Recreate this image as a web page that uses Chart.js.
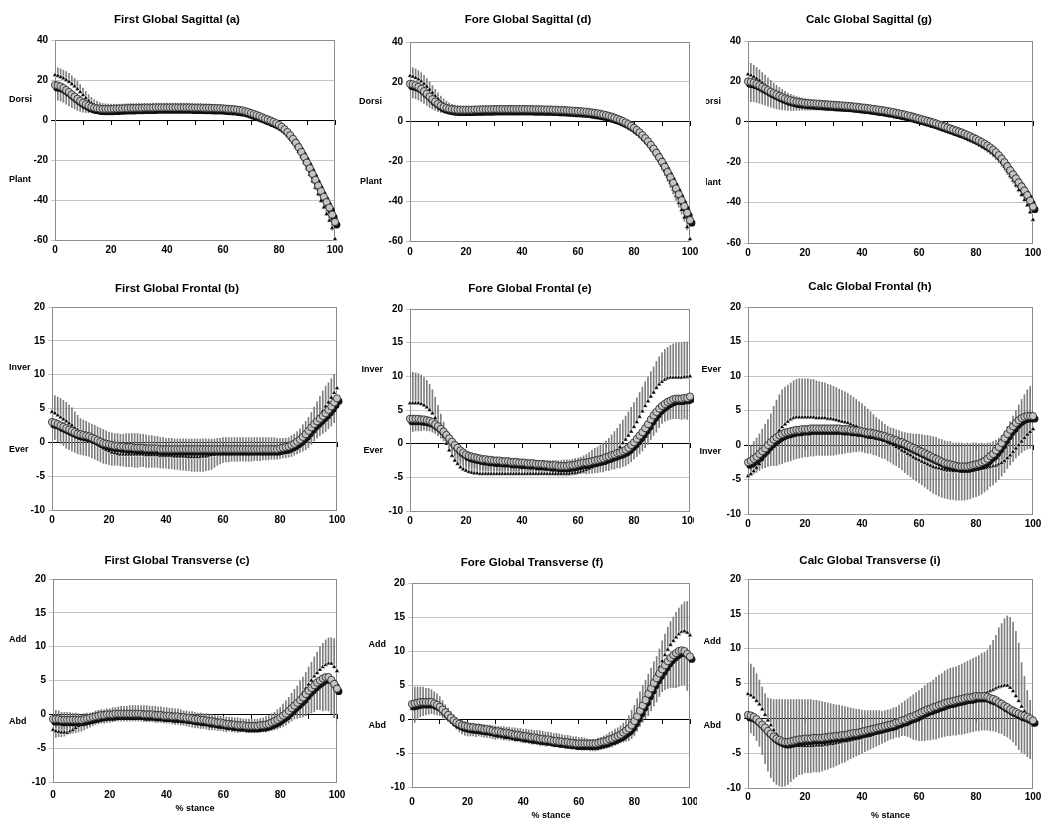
<!DOCTYPE html>
<html>
<head>
<meta charset="utf-8">
<title>Global segment angles during stance</title>
<script src="https://cdn.jsdelivr.net/npm/chart.js@4.4.1/dist/chart.umd.min.js"></script>
<style>
  html, body { margin: 0; padding: 0; background: #fff; }
  body { width: 1050px; height: 830px; position: relative; overflow: hidden; }
  .panel { position: absolute; overflow: hidden; }
  .panel canvas { position: absolute; top: 0; }
</style>
</head>
<body>
<script>
// % stance, one sample per percent
const stance = [0,1,2,3,4,5,6,7,8,9,10,11,12,13,14,15,16,17,18,19,20,21,22,23,24,25,26,27,28,29,30,
  31,32,33,34,35,36,37,38,39,40,41,42,43,44,45,46,47,48,49,50,51,52,53,54,55,56,57,58,59,60,
  61,62,63,64,65,66,67,68,69,70,71,72,73,74,75,76,77,78,79,80,81,82,83,84,85,86,87,88,89,90,
  91,92,93,94,95,96,97,98,99,100];

const xTicks = [0, 20, 40, 60, 80, 100];
const sagittalTicks = [-60, -40, -20, 0, 20, 40];
const planeTicks = [-10, -5, 0, 5, 10, 15, 20];

// (a) First Global Sagittal
const aCirc = [17.5,17.3,16.8,16.0,15.0,14.0,12.8,11.7,10.6,9.6,8.7,
  7.9,7.2,6.6,6.2,5.9,5.7,5.6,5.6,5.6,5.6,
  5.7,5.7,5.8,5.8,5.9,5.9,6.0,6.0,6.1,6.1,
  6.1,6.2,6.2,6.2,6.2,6.3,6.3,6.3,6.3,6.3,
  6.3,6.3,6.3,6.3,6.3,6.3,6.3,6.3,6.2,6.2,
  6.2,6.2,6.1,6.1,6.1,6.0,6.0,5.9,5.9,5.8,
  5.7,5.6,5.5,5.4,5.2,5.0,4.8,4.4,4.0,3.5,
  3.0,2.5,2.0,1.4,0.8,0.3,-0.3,-0.9,-1.6,-2.4,
  -3.4,-4.6,-6.0,-7.6,-9.4,-11.4,-13.6,-16.0,-18.6,-21.3,
  -24.1,-27.0,-29.9,-32.8,-35.6,-38.4,-41.1,-43.8,-47.3,-51.0];
const aTri = [22.5,22.1,21.5,20.8,20.0,19.1,18.0,16.8,15.5,14.0,12.5,
  11.0,9.6,8.4,7.5,6.8,6.2,5.8,5.6,5.5,5.4,
  5.4,5.4,5.4,5.5,5.5,5.5,5.6,5.6,5.6,5.7,
  5.7,5.7,5.7,5.8,5.8,5.8,5.8,5.8,5.8,5.8,
  5.8,5.8,5.8,5.8,5.8,5.8,5.8,5.8,5.8,5.7,
  5.7,5.7,5.6,5.6,5.5,5.5,5.4,5.3,5.2,5.1,
  5.0,4.9,4.7,4.5,4.3,4.1,3.8,3.4,3.0,2.5,
  2.1,1.7,1.3,0.9,0.5,0.0,-0.7,-1.4,-2.2,-3.2,
  -4.4,-5.8,-7.4,-9.2,-11.2,-13.4,-15.8,-18.4,-21.2,-24.2,
  -27.3,-30.5,-33.8,-37.1,-40.4,-43.7,-47.0,-50.3,-54.0,-59.5];
const aTriSD = [4.0,4.0,4.1,4.1,4.2,4.2,4.1,4.0,3.9,3.7,3.5,
  3.3,3.1,2.9,2.7,2.6,2.5,2.5,2.5,2.5,2.5,
  2.5,2.5,2.5,2.5,2.6,2.6,2.6,2.6,2.6,2.6,
  2.6,2.6,2.6,2.6,2.6,2.6,2.6,2.6,2.6,2.6,
  2.6,2.6,2.6,2.6,2.6,2.6,2.6,2.6,2.5,2.5,
  2.5,2.5,2.5,2.5,2.5,2.4,2.4,2.4,2.4,2.4,
  2.4,2.3,2.3,2.2,2.1,2.0,2.0,1.9,1.9,1.8,
  1.8,1.8,1.7,1.7,1.7,1.7,1.7,1.7,1.7,1.7,
  1.8,1.8,1.8,1.8,1.9,1.9,1.9,1.9,2.0,2.0,
  2.0,2.0,2.0,2.0,2.0,2.0,2.0,2.0,2.0,2.0];
const aCircSD = [7.5,7.4,7.3,7.2,7.1,6.9,6.6,6.2,5.8,5.3,4.8,
  4.2,3.6,3.0,2.5,2.1,1.8,1.6,1.5,1.4,1.4,
  1.3,1.3,1.3,1.3,1.3,1.3,1.3,1.3,1.3,1.3,
  1.3,1.3,1.3,1.3,1.3,1.3,1.3,1.3,1.3,1.3,
  1.3,1.3,1.3,1.3,1.3,1.3,1.3,1.3,1.3,1.3,
  1.3,1.3,1.3,1.3,1.3,1.4,1.4,1.4,1.4,1.4,
  1.4,1.4,1.5,1.5,1.5,1.6,1.6,1.7,1.7,1.8,
  1.8,1.9,1.9,2.0,2.0,2.0,2.0,2.0,2.0,2.0,
  2.2,2.4,2.6,2.8,3.0,3.2,3.4,3.6,3.8,4.0,
  4.3,4.6,4.9,5.2,5.6,6.0,6.5,7.0,7.8,8.5];

// (b) First Global Frontal
const bCirc = [3.0,2.9,2.7,2.5,2.3,2.1,1.9,1.7,1.5,1.3,1.2,
  1.1,1.0,0.9,0.7,0.5,0.3,0.1,-0.1,-0.2,-0.3,
  -0.4,-0.5,-0.5,-0.6,-0.6,-0.7,-0.7,-0.7,-0.8,-0.8,
  -0.8,-0.8,-0.9,-0.9,-0.9,-0.9,-0.9,-1.0,-1.0,-1.0,
  -1.0,-1.0,-1.0,-1.0,-1.0,-1.0,-1.0,-1.0,-1.0,-1.0,
  -1.0,-1.0,-1.0,-1.0,-1.0,-1.0,-1.0,-1.0,-1.0,-1.0,
  -1.0,-1.0,-1.0,-1.0,-1.0,-1.0,-1.0,-1.0,-1.0,-1.0,
  -1.0,-1.0,-1.0,-1.0,-1.0,-1.0,-1.0,-1.0,-1.0,-0.9,
  -0.8,-0.7,-0.6,-0.4,-0.2,0.1,0.4,0.8,1.2,1.7,
  2.2,2.7,3.1,3.5,3.9,4.3,4.8,5.3,5.9,6.5];
const bTri = [4.5,4.3,4.0,3.7,3.4,3.1,2.8,2.5,2.1,1.8,1.5,
  1.2,0.9,0.6,0.3,0.0,-0.3,-0.6,-0.9,-1.1,-1.3,
  -1.5,-1.6,-1.7,-1.8,-1.8,-1.8,-1.8,-1.8,-1.8,-1.8,
  -1.8,-1.8,-1.9,-1.9,-1.9,-1.9,-1.9,-2.0,-2.0,-2.0,
  -2.0,-2.0,-2.1,-2.1,-2.1,-2.1,-2.1,-2.2,-2.2,-2.2,
  -2.2,-2.2,-2.1,-2.1,-2.0,-1.9,-1.8,-1.7,-1.6,-1.5,
  -1.5,-1.5,-1.5,-1.5,-1.5,-1.5,-1.5,-1.5,-1.5,-1.5,
  -1.5,-1.5,-1.5,-1.5,-1.5,-1.5,-1.5,-1.5,-1.6,-1.6,
  -1.6,-1.6,-1.5,-1.3,-1.1,-0.8,-0.4,0.1,0.6,1.2,
  1.8,2.5,3.2,3.9,4.6,5.3,5.9,6.6,7.3,8.0];
const bTriSD = [2.5,2.6,2.7,2.8,2.8,2.8,2.7,2.6,2.4,2.2,2.0,
  2.1,2.2,2.3,2.4,2.5,2.6,2.7,2.8,2.8,2.8,
  2.9,2.9,3.0,3.0,3.0,3.1,3.1,3.1,3.1,3.1,
  3.0,3.0,3.0,2.9,2.9,2.8,2.8,2.7,2.7,2.6,
  2.6,2.6,2.6,2.6,2.6,2.6,2.6,2.7,2.7,2.7,
  2.7,2.7,2.6,2.6,2.5,2.4,2.3,2.3,2.2,2.2,
  2.2,2.2,2.2,2.2,2.2,2.2,2.2,2.2,2.2,2.2,
  2.2,2.2,2.2,2.2,2.2,2.2,2.2,2.2,2.2,2.2,
  2.2,2.2,2.2,2.3,2.3,2.4,2.4,2.5,2.5,2.5,
  2.6,2.7,2.8,2.9,3.0,3.0,2.9,2.8,2.7,2.5];
const bCircSD = [2.4,2.5,2.6,2.7,2.8,3.0,3.0,3.0,3.0,3.0,3.0,
  3.0,3.0,3.0,3.0,3.0,3.0,3.0,3.0,3.0,3.0,
  3.0,2.9,2.9,2.9,2.9,2.9,2.9,2.9,2.9,2.9,
  2.8,2.8,2.8,2.8,2.8,2.8,2.8,2.8,2.8,2.8,
  2.9,2.9,3.0,3.0,3.1,3.1,3.2,3.2,3.3,3.3,
  3.3,3.3,3.3,3.2,3.1,3.0,2.7,2.4,2.2,2.0,
  1.9,1.9,1.8,1.8,1.8,1.8,1.8,1.8,1.8,1.8,
  1.7,1.7,1.7,1.6,1.6,1.6,1.5,1.5,1.5,1.5,
  1.5,1.6,1.6,1.7,1.7,1.8,1.9,2.1,2.3,2.5,
  2.5,2.5,2.5,2.5,2.6,2.7,2.8,2.9,3.0,3.2];

// (c) First Global Transverse
const cCirc = [-0.7,-0.7,-0.7,-0.8,-0.8,-0.8,-0.8,-0.8,-0.8,-0.8,-0.8,
  -0.7,-0.6,-0.5,-0.4,-0.3,-0.2,-0.1,-0.1,0.0,0.0,
  0.0,0.1,0.1,0.1,0.1,0.1,0.1,0.1,0.1,0.1,
  0.1,0.0,0.0,0.0,0.0,-0.1,-0.1,-0.1,-0.2,-0.2,
  -0.2,-0.3,-0.3,-0.3,-0.4,-0.4,-0.5,-0.5,-0.6,-0.7,
  -0.7,-0.8,-0.8,-0.9,-1.0,-1.0,-1.1,-1.2,-1.2,-1.3,
  -1.4,-1.4,-1.5,-1.5,-1.6,-1.6,-1.6,-1.7,-1.7,-1.7,
  -1.7,-1.7,-1.6,-1.6,-1.5,-1.4,-1.2,-1.0,-0.8,-0.5,
  -0.2,0.1,0.5,0.9,1.3,1.7,2.1,2.5,3.0,3.5,
  3.9,4.3,4.7,5.0,5.3,5.5,5.5,5.1,4.5,3.8];
const cTri = [-2.3,-2.5,-2.6,-2.7,-2.7,-2.7,-2.5,-2.3,-2.0,-1.7,-1.4,
  -1.2,-1.0,-0.9,-0.8,-0.6,-0.5,-0.4,-0.4,-0.3,-0.3,
  -0.2,-0.2,-0.1,-0.1,-0.1,-0.1,-0.1,-0.1,-0.2,-0.2,
  -0.2,-0.3,-0.3,-0.4,-0.4,-0.4,-0.5,-0.5,-0.6,-0.6,
  -0.7,-0.7,-0.8,-0.8,-0.9,-1.0,-1.0,-1.1,-1.1,-1.2,
  -1.3,-1.3,-1.4,-1.4,-1.5,-1.5,-1.6,-1.6,-1.7,-1.7,
  -1.8,-1.8,-1.8,-1.9,-1.9,-1.9,-2.0,-2.0,-2.0,-2.0,
  -2.0,-2.0,-2.0,-1.9,-1.8,-1.7,-1.5,-1.3,-1.0,-0.7,
  -0.3,0.1,0.5,1.0,1.5,2.0,2.6,3.2,3.8,4.4,
  5.0,5.6,6.1,6.6,7.0,7.3,7.5,7.5,7.0,6.4];
const cTriSD = [3.1,3.1,3.1,3.0,3.0,3.0,2.8,2.5,2.2,1.8,1.4,
  1.3,1.2,1.1,1.1,1.1,1.1,1.1,1.1,1.1,1.1,
  1.2,1.2,1.2,1.3,1.3,1.3,1.4,1.4,1.5,1.5,
  1.5,1.6,1.6,1.6,1.6,1.6,1.6,1.6,1.6,1.6,
  1.6,1.6,1.6,1.6,1.6,1.5,1.5,1.5,1.5,1.5,
  1.5,1.5,1.5,1.5,1.5,1.5,1.4,1.4,1.4,1.4,
  1.4,1.4,1.4,1.4,1.4,1.3,1.3,1.3,1.3,1.3,
  1.3,1.3,1.4,1.4,1.5,1.5,1.6,1.6,1.7,1.7,
  1.8,1.9,2.0,2.1,2.2,2.2,2.3,2.3,2.4,2.6,
  2.7,2.9,3.1,3.4,3.5,3.7,3.8,3.8,4.2,4.6];
const cCircSD = [2.8,2.7,2.6,2.5,2.4,2.2,2.1,2.0,1.9,1.8,1.7,
  1.6,1.5,1.4,1.3,1.2,1.2,1.2,1.2,1.2,1.2,
  1.1,1.1,1.1,1.1,1.1,1.1,1.1,1.1,1.1,1.1,
  1.1,1.1,1.1,1.1,1.1,1.1,1.1,1.1,1.1,1.1,
  1.1,1.1,1.2,1.2,1.2,1.2,1.2,1.3,1.3,1.3,
  1.3,1.3,1.3,1.3,1.3,1.3,1.2,1.2,1.2,1.2,
  1.2,1.1,1.1,1.1,1.1,1.0,1.0,1.0,1.0,1.0,
  1.0,1.0,1.0,1.0,1.1,1.1,1.2,1.3,1.4,1.5,
  1.6,1.7,1.8,1.9,2.0,2.3,2.6,2.9,3.2,3.5,
  3.7,3.9,4.0,4.3,4.8,4.9,5.0,5.0,5.0,5.1];

// (d) Fore Global Sagittal
const dCirc = [19.0,18.8,18.3,17.5,16.5,15.3,14.0,12.6,11.3,10.1,9.0,
  8.1,7.4,6.9,6.5,6.3,6.1,6.0,6.0,6.0,6.0,
  6.0,6.0,6.1,6.1,6.1,6.2,6.2,6.2,6.2,6.3,
  6.3,6.3,6.3,6.3,6.3,6.3,6.3,6.3,6.3,6.3,
  6.3,6.3,6.3,6.2,6.2,6.2,6.2,6.1,6.1,6.1,
  6.0,6.0,5.9,5.9,5.8,5.7,5.6,5.5,5.4,5.3,
  5.2,5.1,5.0,4.8,4.6,4.4,4.2,3.9,3.6,3.3,
  2.9,2.5,2.0,1.5,0.9,0.3,-0.4,-1.2,-2.1,-3.1,
  -4.2,-5.4,-6.8,-8.3,-9.9,-11.7,-13.6,-15.7,-17.9,-20.2,
  -22.7,-25.3,-28.0,-30.8,-33.6,-36.5,-39.5,-42.5,-45.8,-49.5];
const dTri = [23.0,22.6,22.0,21.2,20.2,19.0,17.6,16.1,14.5,12.9,11.4,
  10.0,8.8,7.8,7.0,6.4,6.0,5.7,5.5,5.4,5.4,
  5.4,5.4,5.4,5.4,5.5,5.5,5.5,5.5,5.5,5.6,
  5.6,5.6,5.6,5.6,5.6,5.6,5.6,5.6,5.6,5.6,
  5.6,5.6,5.6,5.5,5.5,5.5,5.5,5.4,5.4,5.4,
  5.3,5.3,5.3,5.2,5.2,5.2,5.1,5.1,5.0,5.0,
  4.9,4.8,4.6,4.4,4.2,4.0,3.7,3.4,3.0,2.6,
  2.2,1.7,1.2,0.6,0.0,-0.6,-1.3,-2.1,-3.0,-4.0,
  -5.1,-6.4,-7.8,-9.4,-11.1,-13.0,-15.0,-17.2,-19.6,-22.1,
  -24.8,-27.7,-30.8,-34.0,-37.3,-40.8,-44.4,-48.2,-53.0,-59.0];
const dTriSD = [4.5,4.5,4.5,4.4,4.3,4.2,4.0,3.8,3.6,3.3,3.0,
  2.8,2.6,2.5,2.4,2.3,2.3,2.3,2.3,2.3,2.3,
  2.3,2.3,2.3,2.3,2.3,2.3,2.3,2.3,2.3,2.3,
  2.3,2.3,2.3,2.3,2.3,2.3,2.3,2.3,2.3,2.3,
  2.3,2.3,2.3,2.3,2.2,2.2,2.2,2.2,2.2,2.2,
  2.2,2.2,2.2,2.1,2.1,2.1,2.1,2.0,2.0,2.0,
  2.0,1.9,1.9,1.9,1.8,1.8,1.8,1.8,1.7,1.7,
  1.7,1.7,1.7,1.7,1.7,1.7,1.7,1.7,1.7,1.7,
  1.8,1.8,1.8,1.8,1.9,1.9,1.9,1.9,2.0,2.0,
  2.0,2.0,2.0,2.0,2.0,2.0,2.0,2.0,2.0,2.0];
const dCircSD = [7.0,6.9,6.8,6.7,6.5,6.2,5.9,5.5,5.0,4.5,4.0,
  3.5,3.0,2.6,2.2,1.9,1.7,1.5,1.4,1.3,1.3,
  1.3,1.3,1.3,1.3,1.3,1.3,1.3,1.3,1.3,1.3,
  1.3,1.3,1.3,1.3,1.3,1.3,1.3,1.3,1.3,1.3,
  1.3,1.3,1.3,1.3,1.3,1.3,1.3,1.3,1.3,1.3,
  1.3,1.3,1.3,1.3,1.3,1.4,1.4,1.4,1.4,1.4,
  1.4,1.4,1.5,1.5,1.5,1.6,1.6,1.7,1.7,1.8,
  1.8,1.9,1.9,2.0,2.0,2.0,2.0,2.0,2.0,2.0,
  2.2,2.4,2.6,2.8,3.0,3.2,3.4,3.6,3.9,4.2,
  4.5,4.8,5.2,5.6,6.0,6.5,7.0,7.6,8.5,9.5];

// (e) Fore Global Frontal
const eCirc = [3.7,3.7,3.7,3.7,3.6,3.6,3.5,3.4,3.2,2.9,2.6,
  2.2,1.8,1.3,0.8,0.3,-0.2,-0.6,-1.0,-1.3,-1.6,
  -1.8,-1.9,-2.0,-2.1,-2.2,-2.3,-2.3,-2.4,-2.4,-2.5,
  -2.5,-2.5,-2.6,-2.6,-2.6,-2.7,-2.7,-2.7,-2.8,-2.8,
  -2.8,-2.9,-2.9,-2.9,-3.0,-3.0,-3.0,-3.1,-3.1,-3.2,
  -3.2,-3.2,-3.3,-3.3,-3.3,-3.3,-3.2,-3.2,-3.1,-3.0,
  -2.9,-2.8,-2.8,-2.7,-2.6,-2.5,-2.4,-2.3,-2.2,-2.0,
  -1.9,-1.7,-1.6,-1.4,-1.3,-1.1,-0.9,-0.6,-0.2,0.2,
  0.7,1.2,1.7,2.3,2.9,3.6,4.2,4.7,5.2,5.6,
  5.9,6.2,6.4,6.6,6.7,6.7,6.7,6.8,6.8,7.0];
const eTri = [6.0,6.0,6.0,6.0,5.9,5.7,5.4,5.0,4.5,3.8,3.0,
  2.0,1.0,0.0,-1.0,-1.8,-2.5,-3.0,-3.5,-3.8,-4.0,
  -4.2,-4.3,-4.4,-4.4,-4.5,-4.5,-4.5,-4.5,-4.5,-4.5,
  -4.5,-4.5,-4.5,-4.5,-4.5,-4.5,-4.5,-4.5,-4.5,-4.5,
  -4.5,-4.5,-4.5,-4.5,-4.5,-4.5,-4.5,-4.5,-4.5,-4.5,
  -4.5,-4.5,-4.5,-4.5,-4.5,-4.5,-4.5,-4.4,-4.4,-4.3,
  -4.2,-4.1,-3.9,-3.7,-3.5,-3.3,-3.1,-2.9,-2.7,-2.5,
  -2.2,-1.8,-1.4,-1.0,-0.5,0.1,0.6,1.2,1.8,2.5,
  3.2,4.0,4.8,5.6,6.3,7.0,7.6,8.3,8.8,9.2,
  9.5,9.7,9.8,9.8,9.8,9.8,9.8,9.9,9.9,10.0];
const eTriSD = [4.7,4.6,4.5,4.4,4.3,4.1,4.0,3.8,3.5,3.1,2.7,
  2.4,2.2,2.0,2.0,2.0,2.0,2.0,2.0,2.0,2.0,
  2.0,2.0,2.0,2.0,2.0,2.0,2.0,2.0,2.0,2.0,
  2.0,2.0,2.0,2.0,2.0,2.0,2.0,2.0,2.0,2.0,
  2.0,2.0,2.0,2.0,2.0,2.0,2.0,2.0,2.0,2.0,
  2.0,2.0,2.0,2.0,2.1,2.1,2.1,2.1,2.2,2.2,
  2.2,2.3,2.3,2.4,2.5,2.6,2.6,2.7,2.8,2.9,
  3.0,3.1,3.2,3.3,3.4,3.4,3.5,3.5,3.6,3.6,
  3.6,3.6,3.6,3.6,3.6,3.7,3.8,3.9,4.1,4.3,
  4.5,4.6,4.8,5.0,5.1,5.2,5.2,5.2,5.2,5.2];
const eCircSD = [1.9,1.9,1.8,1.8,1.7,1.6,1.6,1.5,1.5,1.4,1.4,
  1.4,1.4,1.4,1.5,1.5,1.5,1.5,1.5,1.5,1.5,
  1.5,1.5,1.5,1.5,1.5,1.5,1.5,1.5,1.5,1.5,
  1.5,1.5,1.5,1.5,1.5,1.5,1.5,1.5,1.5,1.5,
  1.5,1.5,1.5,1.5,1.5,1.5,1.5,1.5,1.5,1.5,
  1.5,1.5,1.5,1.5,1.5,1.5,1.5,1.5,1.5,1.5,
  1.6,1.6,1.7,1.7,1.8,1.8,1.9,1.9,2.0,2.0,
  2.1,2.1,2.2,2.2,2.3,2.3,2.4,2.4,2.5,2.5,
  2.6,2.7,2.8,2.9,3.0,3.0,3.0,3.0,2.8,2.6,
  2.6,2.7,2.8,2.9,3.0,3.0,3.1,3.1,3.2,3.3];

// (f) Fore Global Transverse
const fCirc = [2.2,2.3,2.4,2.5,2.5,2.5,2.5,2.5,2.3,2.1,1.8,
  1.4,1.0,0.6,0.2,-0.2,-0.5,-0.7,-0.9,-1.0,-1.1,
  -1.2,-1.2,-1.3,-1.3,-1.4,-1.5,-1.5,-1.6,-1.7,-1.8,
  -1.8,-1.9,-2.0,-2.0,-2.1,-2.2,-2.3,-2.3,-2.4,-2.5,
  -2.5,-2.6,-2.7,-2.7,-2.8,-2.9,-2.9,-3.0,-3.0,-3.1,
  -3.2,-3.2,-3.3,-3.3,-3.4,-3.4,-3.5,-3.5,-3.6,-3.6,
  -3.6,-3.6,-3.6,-3.6,-3.6,-3.6,-3.5,-3.4,-3.3,-3.2,
  -3.0,-2.9,-2.7,-2.5,-2.3,-2.0,-1.7,-1.4,-0.9,-0.3,
  0.4,1.2,2.0,2.8,3.7,4.5,5.3,6.0,6.7,7.3,
  7.9,8.5,9.0,9.4,9.7,10.0,10.1,10.0,9.6,9.2];
const fTri = [1.5,1.7,1.8,1.9,2.0,2.0,2.1,2.1,2.0,1.8,1.6,
  1.2,0.8,0.4,0.0,-0.4,-0.8,-1.1,-1.4,-1.6,-1.8,
  -1.9,-1.9,-2.0,-2.0,-2.1,-2.1,-2.2,-2.2,-2.3,-2.3,
  -2.4,-2.4,-2.4,-2.5,-2.5,-2.6,-2.6,-2.7,-2.7,-2.8,
  -2.8,-2.9,-2.9,-3.0,-3.1,-3.1,-3.2,-3.3,-3.3,-3.4,
  -3.5,-3.5,-3.6,-3.7,-3.8,-3.8,-3.9,-4.0,-4.0,-4.1,
  -4.1,-4.2,-4.2,-4.3,-4.3,-4.3,-4.2,-4.1,-4.0,-3.8,
  -3.6,-3.4,-3.2,-3.0,-2.7,-2.4,-2.1,-1.7,-1.2,-0.7,
  0.1,1.0,1.9,2.8,3.8,4.8,5.8,6.7,7.6,8.5,
  9.4,10.2,10.9,11.5,12.0,12.5,12.8,12.9,12.7,12.3];
const fTriSD = [3.1,3.0,2.9,2.8,2.7,2.5,2.4,2.2,2.0,1.9,1.7,
  1.5,1.3,1.2,1.1,1.0,1.0,1.1,1.2,1.2,1.3,
  1.3,1.3,1.3,1.3,1.3,1.3,1.3,1.3,1.3,1.3,
  1.3,1.3,1.3,1.3,1.3,1.3,1.3,1.3,1.3,1.3,
  1.3,1.3,1.3,1.3,1.4,1.4,1.4,1.4,1.4,1.4,
  1.4,1.4,1.4,1.4,1.4,1.4,1.4,1.4,1.4,1.4,
  1.4,1.4,1.3,1.3,1.3,1.3,1.4,1.4,1.5,1.5,
  1.6,1.6,1.7,1.7,1.7,1.8,2.0,2.2,2.5,2.7,
  2.9,3.0,3.0,2.9,2.8,2.7,2.6,2.5,2.7,3.0,
  3.1,3.3,3.4,3.5,3.7,3.8,4.0,4.3,4.6,4.9];
const fCircSD = [3.0,2.8,2.5,2.2,2.0,1.9,1.8,1.7,1.6,1.5,1.3,
  1.2,1.1,1.0,0.9,0.8,1.0,1.2,1.3,1.4,1.4,
  1.3,1.3,1.3,1.2,1.2,1.2,1.2,1.2,1.2,1.2,
  1.1,1.1,1.1,1.1,1.1,1.0,1.0,1.0,1.0,1.0,
  1.0,1.0,1.0,1.0,1.0,1.0,1.0,1.0,0.9,0.9,
  0.9,0.9,0.9,0.9,0.9,0.9,0.9,0.9,0.9,0.9,
  1.0,1.0,1.0,1.1,1.1,1.1,1.1,1.1,1.1,1.1,
  1.2,1.2,1.2,1.2,1.2,1.4,1.6,1.8,2.0,2.2,
  2.2,2.3,2.5,2.8,3.2,3.3,3.4,3.5,3.4,3.3,
  3.6,4.0,4.4,4.8,5.1,5.2,5.1,5.0,5.4,5.9];

// (g) Calc Global Sagittal
const gCirc = [20.0,19.8,19.4,18.8,18.1,17.3,16.5,15.7,14.9,14.2,13.5,
  12.8,12.2,11.6,11.1,10.7,10.3,10.0,9.8,9.6,9.4,
  9.3,9.2,9.1,9.0,8.9,8.8,8.7,8.6,8.5,8.4,
  8.3,8.2,8.1,8.0,7.9,7.8,7.6,7.5,7.3,7.1,
  7.0,6.8,6.6,6.4,6.2,6.0,5.8,5.6,5.3,5.1,
  4.8,4.5,4.2,3.9,3.6,3.2,2.9,2.5,2.1,1.7,
  1.3,0.9,0.5,0.1,-0.3,-0.8,-1.3,-1.8,-2.3,-2.8,
  -3.3,-3.8,-4.3,-4.8,-5.3,-5.9,-6.5,-7.1,-7.8,-8.5,
  -9.2,-10.0,-10.8,-11.7,-12.7,-13.8,-15.0,-16.5,-18.2,-20.0,
  -22.0,-24.0,-26.0,-28.0,-30.0,-32.0,-34.0,-36.3,-39.0,-42.0];
const gTri = [23.5,23.0,22.3,21.4,20.4,19.3,18.2,17.1,16.0,15.0,14.1,
  13.2,12.4,11.7,11.0,10.5,10.0,9.6,9.3,9.0,8.8,
  8.6,8.5,8.4,8.3,8.2,8.1,8.0,7.9,7.8,7.7,
  7.6,7.5,7.4,7.3,7.2,7.1,7.0,6.8,6.7,6.5,
  6.4,6.2,6.0,5.8,5.6,5.4,5.2,5.0,4.7,4.5,
  4.2,3.9,3.6,3.3,3.0,2.7,2.3,1.9,1.5,1.1,
  0.7,0.3,-0.1,-0.5,-1.0,-1.5,-2.0,-2.5,-3.0,-3.5,
  -4.0,-4.5,-5.0,-5.5,-6.1,-6.7,-7.3,-8.0,-8.7,-9.5,
  -10.3,-11.2,-12.1,-13.1,-14.2,-15.4,-16.8,-18.4,-20.2,-22.2,
  -24.4,-26.7,-29.0,-31.4,-33.8,-36.2,-38.7,-41.3,-44.8,-48.5];
const gTriSD = [6.0,5.9,5.7,5.5,5.3,5.1,4.9,4.7,4.5,4.2,4.0,
  3.8,3.6,3.4,3.2,3.1,3.0,2.9,2.8,2.7,2.7,
  2.6,2.6,2.6,2.5,2.5,2.5,2.5,2.5,2.5,2.5,
  2.4,2.4,2.4,2.4,2.4,2.3,2.3,2.3,2.3,2.3,
  2.2,2.2,2.2,2.2,2.2,2.1,2.1,2.1,2.1,2.1,
  2.1,2.1,2.1,2.1,2.1,2.1,2.1,2.1,2.2,2.2,
  2.2,2.2,2.3,2.3,2.3,2.3,2.4,2.4,2.4,2.4,
  2.5,2.5,2.5,2.5,2.5,2.5,2.5,2.5,2.5,2.5,
  2.5,2.5,2.5,2.5,2.5,2.5,2.5,2.5,2.5,2.5,
  2.5,2.5,2.5,2.5,2.5,2.5,2.5,2.5,2.5,2.5];
const gCircSD = [10.0,9.8,9.5,9.2,8.9,8.6,8.3,8.0,7.7,7.4,7.1,
  6.7,6.3,5.9,5.5,5.1,4.7,4.4,4.1,3.9,3.7,
  3.5,3.4,3.3,3.2,3.1,3.0,3.0,3.0,2.9,2.9,
  2.9,2.8,2.8,2.8,2.7,2.7,2.7,2.6,2.6,2.6,
  2.5,2.5,2.5,2.4,2.4,2.4,2.4,2.3,2.3,2.3,
  2.3,2.3,2.3,2.3,2.3,2.3,2.3,2.4,2.4,2.4,
  2.4,2.5,2.5,2.5,2.6,2.6,2.6,2.7,2.7,2.7,
  2.8,2.8,2.8,2.9,2.9,2.9,3.0,3.0,3.0,3.0,
  3.1,3.2,3.3,3.4,3.5,3.6,3.7,3.8,3.9,4.0,
  4.1,4.2,4.4,4.6,4.8,5.0,5.3,5.6,6.0,6.5];

// (h) Calc Global Frontal
const hCirc = [-2.5,-2.3,-2.0,-1.7,-1.3,-0.9,-0.5,0.0,0.4,0.8,1.1,
  1.4,1.6,1.8,1.9,2.0,2.1,2.2,2.2,2.3,2.3,
  2.3,2.4,2.4,2.4,2.4,2.4,2.4,2.4,2.4,2.4,
  2.4,2.4,2.3,2.3,2.3,2.2,2.2,2.1,2.1,2.0,
  1.9,1.8,1.8,1.7,1.6,1.5,1.4,1.3,1.1,1.0,
  0.8,0.7,0.5,0.4,0.2,0.0,-0.2,-0.4,-0.6,-0.8,
  -1.0,-1.2,-1.4,-1.6,-1.8,-2.0,-2.2,-2.4,-2.6,-2.7,
  -2.8,-2.9,-3.0,-3.1,-3.1,-3.1,-3.1,-3.0,-2.9,-2.8,
  -2.7,-2.5,-2.3,-2.0,-1.6,-1.3,-0.8,-0.3,0.3,1.0,
  1.6,2.2,2.7,3.2,3.6,3.9,4.1,4.2,4.2,4.2];
const hTri = [-4.5,-4.2,-3.8,-3.3,-2.8,-2.2,-1.5,-0.8,0.0,0.8,1.5,
  2.1,2.6,3.0,3.4,3.7,3.9,4.0,4.0,4.0,4.0,
  4.0,4.0,4.0,3.9,3.9,3.9,3.9,3.8,3.8,3.7,
  3.6,3.5,3.4,3.3,3.2,3.0,2.8,2.7,2.5,2.3,
  2.1,1.9,1.7,1.5,1.3,1.1,0.9,0.6,0.4,0.2,
  0.0,-0.3,-0.5,-0.8,-1.0,-1.3,-1.5,-1.8,-2.0,-2.2,
  -2.4,-2.6,-2.8,-3.0,-3.2,-3.3,-3.4,-3.5,-3.6,-3.7,
  -3.7,-3.8,-3.8,-3.8,-3.8,-3.8,-3.7,-3.7,-3.6,-3.5,
  -3.5,-3.4,-3.4,-3.3,-3.2,-3.1,-3.0,-2.8,-2.6,-2.3,
  -1.9,-1.5,-1.0,-0.5,0.0,0.5,1.0,1.5,1.9,2.3];
const hTriSD = [4.2,4.2,4.3,4.3,4.4,4.5,4.5,4.5,4.5,4.8,5.0,
  5.2,5.4,5.4,5.3,5.3,5.4,5.5,5.6,5.6,5.6,
  5.6,5.5,5.5,5.4,5.3,5.2,5.1,5.0,4.9,4.8,
  4.7,4.6,4.5,4.4,4.3,4.2,4.1,3.9,3.8,3.7,
  3.5,3.3,3.1,2.9,2.7,2.6,2.5,2.4,2.3,2.3,
  2.4,2.5,2.6,2.7,2.8,3.0,3.2,3.4,3.6,3.8,
  3.9,4.0,4.2,4.3,4.4,4.4,4.3,4.3,4.2,4.2,
  4.2,4.1,4.1,4.1,4.1,4.0,4.0,3.9,3.9,3.8,
  3.7,3.7,3.6,3.6,3.5,3.6,3.7,3.8,4.0,4.3,
  4.6,4.9,5.2,5.5,5.8,6.1,6.3,6.5,6.6,6.7];
const hCircSD = [2.0,2.1,2.2,2.3,2.4,2.5,2.8,3.1,3.4,3.8,4.1,
  4.2,4.3,4.3,4.3,4.3,4.2,4.2,4.1,4.1,4.0,
  4.0,4.0,4.0,3.9,3.9,3.9,3.9,3.9,3.9,3.9,
  3.8,3.7,3.6,3.5,3.4,3.3,3.2,3.1,3.0,3.0,
  3.0,3.0,3.0,3.1,3.1,3.2,3.3,3.3,3.4,3.5,
  3.6,3.7,3.8,4.0,4.2,4.3,4.4,4.5,4.6,4.7,
  4.8,4.9,5.0,5.1,5.2,5.2,5.2,5.2,5.1,5.1,
  5.1,5.0,5.0,4.9,4.9,4.9,4.8,4.8,4.7,4.7,
  4.6,4.6,4.5,4.5,4.4,4.5,4.6,4.7,4.8,5.0,
  5.0,5.1,5.1,5.1,5.1,5.0,4.9,4.8,4.7,4.7];

// (i) Calc Global Transverse
const iCirc = [0.5,0.4,0.2,-0.1,-0.5,-0.9,-1.3,-1.8,-2.2,-2.6,-2.9,
  -3.1,-3.3,-3.4,-3.4,-3.3,-3.2,-3.1,-3.0,-3.0,-2.9,
  -2.9,-2.9,-2.8,-2.8,-2.8,-2.8,-2.7,-2.7,-2.6,-2.6,
  -2.5,-2.5,-2.4,-2.4,-2.3,-2.2,-2.1,-2.1,-2.0,-1.9,
  -1.8,-1.7,-1.6,-1.5,-1.4,-1.3,-1.2,-1.1,-1.0,-0.9,
  -0.8,-0.6,-0.5,-0.3,-0.2,0.0,0.2,0.3,0.5,0.7,
  0.9,1.1,1.3,1.4,1.6,1.7,1.9,2.0,2.2,2.3,
  2.4,2.5,2.6,2.7,2.8,2.9,3.0,3.0,3.1,3.2,
  3.2,3.2,3.2,3.1,2.9,2.8,2.6,2.3,2.1,1.8,
  1.6,1.3,1.1,0.9,0.7,0.5,0.4,0.2,0.0,-0.3];
const iTri = [3.5,3.3,3.0,2.5,2.0,1.3,0.5,-0.3,-1.0,-1.7,-2.3,
  -2.8,-3.2,-3.5,-3.8,-3.9,-4.0,-4.0,-4.0,-4.0,-4.0,
  -4.0,-4.0,-4.0,-3.9,-3.9,-3.9,-3.8,-3.8,-3.7,-3.7,
  -3.6,-3.5,-3.4,-3.3,-3.3,-3.2,-3.1,-3.0,-2.9,-2.8,
  -2.7,-2.6,-2.5,-2.3,-2.2,-2.1,-2.0,-1.8,-1.7,-1.5,
  -1.3,-1.2,-1.0,-0.8,-0.6,-0.4,-0.2,0.0,0.2,0.4,
  0.6,0.8,1.0,1.1,1.3,1.5,1.7,1.8,2.0,2.1,
  2.2,2.3,2.4,2.5,2.7,2.8,2.9,3.0,3.1,3.2,
  3.3,3.5,3.6,3.7,3.9,4.1,4.3,4.5,4.6,4.7,
  4.7,4.4,3.9,3.2,2.5,1.7,1.0,0.3,-0.4,-1.0];
const iTriSD = [4.7,4.5,4.3,3.9,3.5,3.2,3.0,3.2,3.8,4.4,5.0,
  5.5,5.9,6.2,6.5,6.6,6.7,6.7,6.7,6.7,6.7,
  6.7,6.7,6.6,6.5,6.4,6.3,6.1,6.0,5.8,5.7,
  5.5,5.4,5.2,5.0,4.9,4.7,4.5,4.3,4.2,4.0,
  3.8,3.7,3.6,3.4,3.3,3.2,3.0,2.9,2.9,2.8,
  2.8,2.8,2.9,3.0,3.1,3.2,3.3,3.4,3.5,3.6,
  3.7,3.9,4.0,4.1,4.2,4.4,4.5,4.6,4.8,4.9,
  5.0,5.0,5.0,5.1,5.1,5.2,5.3,5.4,5.5,5.6,
  5.7,5.8,5.9,6.1,6.6,7.1,7.6,8.5,9.0,9.6,
  10.0,10.1,9.9,9.3,8.3,6.3,5.0,3.7,3.0,2.5];
const iCircSD = [2.3,2.5,2.7,3.1,3.5,4.3,5.2,5.8,6.3,6.5,6.6,
  6.6,6.5,6.3,6.1,5.8,5.5,5.3,5.1,5.0,4.9,
  4.9,4.9,4.9,4.9,4.9,4.8,4.7,4.6,4.5,4.4,
  4.3,4.1,4.0,3.9,3.7,3.6,3.5,3.3,3.2,3.1,
  3.0,2.9,2.8,2.7,2.6,2.5,2.4,2.3,2.2,2.1,
  2.1,2.1,2.2,2.2,2.3,2.6,3.0,3.3,3.6,3.9,
  4.1,4.3,4.4,4.5,4.6,4.7,4.7,4.7,4.8,4.8,
  4.9,4.9,5.0,5.0,5.1,5.1,5.1,5.0,5.0,5.0,
  5.0,4.9,4.9,4.8,4.7,4.6,4.5,4.4,4.3,4.3,
  4.3,4.3,4.5,4.8,5.2,5.4,5.5,5.7,5.8,5.9];

const FONT = '"Liberation Sans", Arial, Helvetica, sans-serif';
Chart.defaults.font.family = FONT;
Chart.defaults.color = '#000';

const rows = [{ top: 0, h: 270 }, { top: 270, h: 270 }, { top: 540, h: 290 }];

// page layout of each panel (absolute px); clip = visible strip, canvas may overhang it
const panels = [
  { title: 'First Global Sagittal (a)', row: 0, clip: [0, 350], canvasL: 0, w: 354, plot: [55, 335, 40, 240], titleY: 20,
    side: ['Dorsi', 'Plant'], sideX: 9, sideAlign: 'left', tickOff: 10, yTicks: sagittalTicks,
    circ: aCirc, tri: aTri, triSD: aTriSD, circSD: aCircSD },
  { title: 'Fore Global Sagittal (d)', row: 0, clip: [350, 700], canvasL: 353, w: 350, plot: [410, 690, 42, 241], titleY: 20,
    side: ['Dorsi', 'Plant'], sideX: 382, sideAlign: 'right', tickOff: 11, yTicks: sagittalTicks,
    circ: dCirc, tri: dTri, triSD: dTriSD, circSD: dCircSD },
  { title: 'Calc Global Sagittal (g)', row: 0, clip: [706, 1050], canvasL: 694, w: 350, plot: [748, 1033, 41, 243], titleY: 20,
    side: ['Dorsi', 'Plant'], sideX: 721, sideAlign: 'right', tickOff: 10, yTicks: sagittalTicks,
    circ: gCirc, tri: gTri, triSD: gTriSD, circSD: gCircSD },
  { title: 'First Global Frontal (b)', row: 1, clip: [0, 350], canvasL: 0, w: 354, plot: [52, 337, 307, 510], titleY: 19,
    side: ['Inver', 'Ever'], sideX: 9, sideAlign: 'left', tickOff: 10, yTicks: planeTicks,
    circ: bCirc, tri: bTri, triSD: bTriSD, circSD: bCircSD },
  { title: 'Fore Global Frontal (e)', row: 1, clip: [350, 694], canvasL: 355, w: 350, plot: [410, 690, 309, 511], titleY: 19,
    side: ['Inver', 'Ever'], sideX: 383, sideAlign: 'right', tickOff: 10, yTicks: planeTicks,
    circ: eCirc, tri: eTri, triSD: eTriSD, circSD: eCircSD },
  { title: 'Calc Global Frontal (h)', row: 1, clip: [700, 1050], canvasL: 695, w: 350, plot: [748, 1033, 307, 514], titleY: 17,
    side: ['Ever', 'Inver'], sideX: 721, sideAlign: 'right', tickOff: 10, yTicks: planeTicks,
    circ: hCirc, tri: hTri, triSD: hTriSD, circSD: hCircSD },
  { title: 'First Global Transverse (c)', row: 2, clip: [0, 350], canvasL: 0, w: 354, plot: [53, 337, 579, 782], titleY: 21,
    side: ['Add', 'Abd'], sideX: 9, sideAlign: 'left', tickOff: 13, xTitleOff: 21, yTicks: planeTicks,
    circ: cCirc, tri: cTri, triSD: cTriSD, circSD: cCircSD },
  { title: 'Fore Global Transverse (f)', row: 2, clip: [350, 697], canvasL: 357, w: 350, plot: [412, 690, 583, 787], titleY: 23,
    side: ['Add', 'Abd'], sideX: 386, sideAlign: 'right', tickOff: 15, xTitleOff: 14, yTicks: planeTicks,
    circ: fCirc, tri: fTri, triSD: fTriSD, circSD: fCircSD },
  { title: 'Calc Global Transverse (i)', row: 2, clip: [700, 1050], canvasL: 695, w: 350, plot: [748, 1033, 579, 788], titleY: 21,
    side: ['Add', 'Abd'], sideX: 721, sideAlign: 'right', tickOff: 9, xTitleOff: 14, yTicks: planeTicks,
    circ: iCirc, tri: iTri, triSD: iTriSD, circSD: iCircSD }
];

// dark offset copy of the circle markers (the Excel marker shadow)
const markerShadow = {
  id: 'markerShadow',
  beforeDatasetDraw(chart, args) {
    const ds = chart.data.datasets[args.index];
    if (!ds.shadow) return;
    const ctx = chart.ctx;
    ctx.save();
    ctx.fillStyle = '#111';
    args.meta.data.forEach(pt => {
      ctx.beginPath();
      ctx.arc(pt.x + ds.shadow[0], pt.y + ds.shadow[1], ds.pointRadius, 0, Math.PI * 2);
      ctx.fill();
    });
    ctx.restore();
  }
};

// plot box outline and the Dorsi/Plant style labels left of the axis
const frame = {
  id: 'frame',
  beforeDatasetsDraw(chart) {
    const { ctx, chartArea: a } = chart;
    ctx.save();
    ctx.strokeStyle = '#8c8c8c';
    ctx.lineWidth = 1;
    ctx.strokeRect(Math.round(a.left) + 0.5, Math.round(a.top) + 0.5,
      Math.round(a.right - a.left) - 1, Math.round(a.bottom - a.top));
    ctx.restore();
  },
  afterDraw(chart, args, opts) {
    const { ctx, chartArea: a } = chart;
    ctx.save();
    ctx.font = 'bold 9px ' + FONT;
    ctx.fillStyle = '#000';
    ctx.textAlign = opts.align;
    ctx.textBaseline = 'middle';
    const h = a.bottom - a.top;
    ctx.fillText(opts.labels[0], opts.x, a.top + h * 0.3);
    ctx.fillText(opts.labels[1], opts.x, a.top + h * 0.7);
    ctx.restore();
  }
};

panels.forEach(p => {
  const row = rows[p.row];
  const W = p.w, H = row.h;
  const l = p.plot[0] - p.canvasL, r = p.plot[1] - p.canvasL;
  const t = p.plot[2] - row.top, b = p.plot[3] - row.top;

  const wrap = document.createElement('div');
  wrap.className = 'panel';
  wrap.style.left = p.clip[0] + 'px';
  wrap.style.top = row.top + 'px';
  wrap.style.width = (p.clip[1] - p.clip[0]) + 'px';
  wrap.style.height = H + 'px';
  const canvas = document.createElement('canvas');
  canvas.width = W;
  canvas.height = H;
  canvas.style.left = (p.canvasL - p.clip[0]) + 'px';
  wrap.appendChild(canvas);
  document.body.appendChild(wrap);

  const titleHalf = 11.5 * 1.2 / 2;
  const tickFont = { family: FONT, size: 10, weight: 'bold' };

  new Chart(canvas, {
    type: 'line',
    data: {
      datasets: [
        {
          type: 'bar',
          data: stance.map((x, i) => ({ x: x, y: [p.tri[i], p.tri[i] + p.triSD[i]] })),
          backgroundColor: '#7e7e7e',
          barThickness: 1,
          grouped: false,
          order: 3
        },
        {
          type: 'bar',
          data: stance.map((x, i) => ({ x: x, y: [p.circ[i] - p.circSD[i], p.circ[i]] })),
          backgroundColor: '#7e7e7e',
          barThickness: 1,
          grouped: false,
          order: 2
        },
        {
          data: stance.map((x, i) => ({ x: x, y: p.tri[i] })),
          showLine: false,
          pointStyle: 'triangle',
          pointRadius: 2.8,
          pointBackgroundColor: '#000000',
          pointBorderColor: '#ffffff',
          pointBorderWidth: 0.5,
          clip: false,
          order: 1
        },
        {
          data: stance.map((x, i) => ({ x: x, y: p.circ[i] })),
          showLine: false,
          pointRadius: 3.6,
          pointBackgroundColor: '#c4c4c4',
          pointBorderColor: '#1e1e1e',
          pointBorderWidth: 0.8,
          shadow: [1.8, 2.8],
          clip: false,
          order: 0
        }
      ]
    },
    options: {
      responsive: false,
      animation: false,
      events: [],
      layout: { padding: 0 },
      plugins: {
        legend: { display: false },
        tooltip: { enabled: false },
        title: {
          display: true,
          text: p.title,
          color: '#000',
          font: { family: FONT, size: 11.5, weight: 'bold' },
          padding: { top: p.titleY - titleHalf, bottom: t - p.titleY - titleHalf }
        },
        frame: { labels: p.side, x: p.sideX - p.canvasL, align: p.sideAlign }
      },
      scales: {
        x: {
          type: 'linear',
          min: 0,
          max: 100,
          offset: false,
          grid: { display: false, drawTicks: false, offset: false },
          border: { display: false },
          ticks: { font: tickFont, color: '#000', padding: p.tickOff - 6, maxRotation: 0 },
          afterBuildTicks: s => { s.ticks = xTicks.map(v => ({ value: v })); },
          afterFit: s => { s.height = H - b; s.paddingRight = W - r; s.paddingLeft = 0; },
          title: {
            display: !!p.xTitleOff,
            text: '% stance',
            color: '#000',
            font: { family: FONT, size: 9, weight: 'bold' },
            padding: { top: 0, bottom: (p.xTitleOff || 0) - 5.4 }
          }
        },
        x0: {
          axis: 'x',
          type: 'linear',
          position: { y: 0 },
          min: 0,
          max: 100,
          ticks: { display: false, stepSize: 10 },
          grid: { display: true, drawOnChartArea: false, drawTicks: true, tickLength: 4, color: '#000' },
          border: { display: true, color: '#000', width: 1 }
        },
        y: {
          type: 'linear',
          min: p.yTicks[0],
          max: p.yTicks[p.yTicks.length - 1],
          afterBuildTicks: s => { s.ticks = p.yTicks.map(v => ({ value: v })); },
          afterFit: s => { s.width = l; },
          grid: {
            color: c => (c.tick && c.tick.value === 0) ? '#000' : '#c4c4c4',
            tickLength: 4
          },
          border: { display: false },
          ticks: { font: tickFont, color: '#000', padding: 3 }
        }
      }
    },
    plugins: [markerShadow, frame]
  });
});
</script>
</body>
</html>
